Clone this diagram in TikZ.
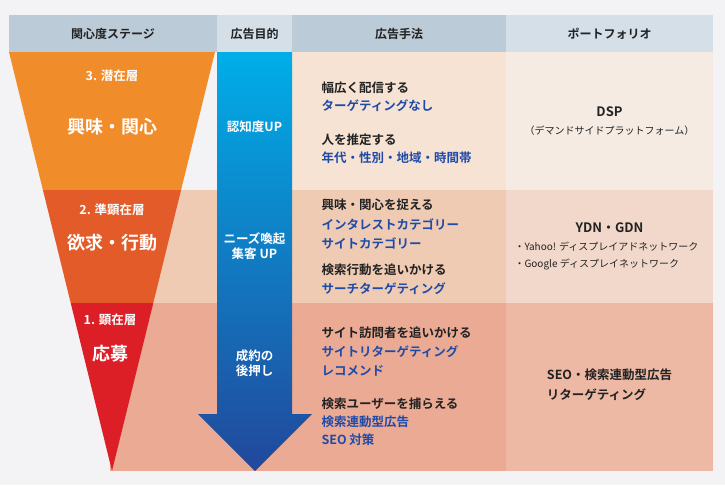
\documentclass[tikz,border=0pt]{standalone}
\usepackage{fontspec}
\setmainfont{Noto Sans CJK JP}[BoldFont={Noto Sans CJK JP Bold}]
\definecolor{bgc}{HTML}{F3F3F5}
\definecolor{hdA}{HTML}{BCCBD8}
\definecolor{hdB}{HTML}{D4DFE8}
\definecolor{rA}{HTML}{F6E3D3}
\definecolor{rB}{HTML}{F0CBB4}
\definecolor{rC}{HTML}{EBAA94}
\definecolor{pA}{HTML}{F5EBE3}
\definecolor{pB}{HTML}{F2D8CA}
\definecolor{pC}{HTML}{EDB8A4}
\definecolor{fA}{HTML}{F18C2A}
\definecolor{fB}{HTML}{E35B28}
\definecolor{fC}{HTML}{DC1F26}
\definecolor{arT}{HTML}{00AEE8}
\definecolor{arB}{HTML}{22479B}
\definecolor{txt}{HTML}{222222}
\definecolor{blu}{HTML}{1F4BA8}
\tikzset{
 hd/.style={font=\bfseries\fontsize{12}{14}\selectfont,text=txt},
 bk/.style={font=\bfseries\fontsize{12.5}{15}\selectfont,text=txt,anchor=west},
 bl/.style={font=\bfseries\fontsize{12.5}{15}\selectfont,text=blu,anchor=west},
 wt/.style={font=\bfseries\fontsize{12.5}{15}\selectfont,text=white},
 wb/.style={font=\bfseries\fontsize{18}{22}\selectfont,text=white},
 ps/.style={font=\bfseries\fontsize{11}{13}\selectfont,text=txt,anchor=west},
}
\begin{document}
\begin{tikzpicture}[x=1pt,y=-1pt]
\fill[bgc] (0,0) rectangle (725,485);
\useasboundingbox (0,0) rectangle (725,485);
% headers
\fill[hdA] (9,15) rectangle (217,52);
\fill[hdB] (217,15) rectangle (292,52);
\fill[hdA] (292,15) rectangle (506,52);
\fill[hdB] (506,15) rectangle (713,52);
\node[hd] (h1) at (113,34) {関心度ステージ};
\node[hd] (h2) at (254.5,34) {広告目的};
\node[hd] (h3) at (399,34) {広告手法};
\node[hd] (h4) at (609.5,34) {ポートフォリオ};
% rows
\fill[rA] (217,52) rectangle (506,190);
\fill[rB] (150,190) rectangle (506,303);
\fill[rC] (110,303) rectangle (506,471);
\fill[pA] (506,52) rectangle (713,190);
\fill[pB] (506,190) rectangle (713,303);
\fill[pC] (506,303) rectangle (713,471);
% funnel
\begin{scope}
\clip (9,52) -- (215,52) -- (112,471) -- cycle;
\fill[fA] (0,52) rectangle (220,190);
\fill[fB] (0,190) rectangle (220,303);
\fill[fC] (0,303) rectangle (220,471);
\end{scope}
% arrow
\shade[top color=arT,bottom color=arB] (217,52) -- (292,52) -- (292,414) -- (312,414) -- (255,471) -- (198,414) -- (217,414) -- cycle;
% funnel texts
\node[wt] (f1) at (112,76) {3. 潜在層};
\node[wb] (f2) at (112,127) {興味・関心};
\node[wt] (f3) at (112,210) {2. 準顕在層};
\node[wb] (f4) at (112,243) {欲求・行動};
\node[wt] (f5) at (110,320) {1. 顕在層};
\node[wb] (f6) at (110,354) {応募};
% purpose
\node[wt] (g1) at (254.5,127) {認知度UP};
\node[wt,align=center] (g2) at (254.5,246) {ニーズ喚起\\集客 UP};
\node[wt,align=center] (g3) at (254.5,363) {成約の\\後押し};
% methods
\node[bk] at (318,88) {幅広く配信する};
\node[bl] at (318,106) {ターゲティングなし};
\node[bk] at (318,140) {人を推定する};
\node[bl] at (318,158) {年代・性別・地域・時間帯};
\node[bk] at (318,205) {興味・関心を捉える};
\node[bl] at (318,224) {インタレストカテゴリー};
\node[bl] at (318,243) {サイトカテゴリー};
\node[bk] at (318,270) {検索行動を追いかける};
\node[bl] at (318,289) {サーチターゲティング};
\node[bk] at (318,333) {サイト訪問者を追いかける};
\node[bl] at (318,352) {サイトリターゲティング};
\node[bl] at (318,371) {レコメンド};
\node[bk] at (318,404) {検索ユーザーを捕らえる};
\node[bl] at (318,422) {検索連動型広告};
\node[bl] at (318,440) {SEO 対策};
% portfolio
\node[hd,font=\bfseries\fontsize{13}{15}\selectfont] (p1) at (609.5,112) {DSP};
\node[font=\fontsize{10}{12}\selectfont,text=txt] (p2) at (609.5,131) {（デマンドサイドプラットフォーム）};
\node[hd,font=\bfseries\fontsize{13}{15}\selectfont] (p3) at (609.5,228) {YDN・GDN};
\node[ps,font=\fontsize{10}{12}\selectfont] (p4) at (511,247) {・Yahoo! ディスプレイアドネットワーク};
\node[ps,font=\fontsize{10}{12}\selectfont] (p5) at (511,264) {・Google ディスプレイネットワーク};
\node[bk,anchor=center] (p6) at (609.5,375) {SEO・検索連動型広告};
\node[bk,anchor=west] (p7) at (p6.west |- 0,395) {リターゲティング};
\end{tikzpicture}
\end{document}
